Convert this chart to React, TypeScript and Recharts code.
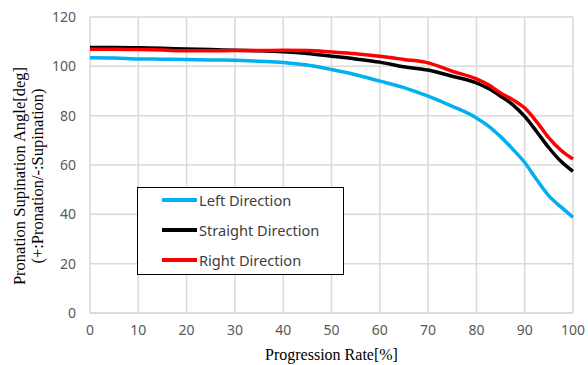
import { LineChart, Line, XAxis, YAxis, CartesianGrid } from 'recharts';

const progression = [0, 5, 10, 15, 20, 25, 30, 35, 40, 45, 50, 55, 60, 65, 70, 75, 80, 82.5, 85, 87.5, 90, 92.5, 95, 97.5, 100];
const leftDirection = [103.5, 103.4, 103.0, 102.9, 102.8, 102.6, 102.5, 102.1, 101.6, 100.5, 98.7, 96.6, 94.0, 91.4, 87.9, 83.8, 79.1, 75.8, 71.5, 66.5, 61.0, 54.0, 47.5, 43.0, 38.8];
const straightDirection = [107.6, 107.6, 107.5, 107.3, 107.0, 106.8, 106.5, 106.3, 105.9, 105.2, 104.1, 103.0, 101.7, 99.8, 98.5, 96.0, 93.3, 91.0, 87.9, 84.5, 79.7, 73.5, 67.0, 61.5, 57.4];
const rightDirection = [106.9, 106.9, 106.8, 106.6, 106.3, 106.3, 106.4, 106.4, 106.5, 106.4, 105.8, 105.1, 104.1, 102.8, 101.4, 98.0, 94.9, 92.5, 89.2, 86.5, 83.1, 77.5, 71.0, 66.0, 62.4];

const xTicks = [0, 10, 20, 30, 40, 50, 60, 70, 80, 90, 100];
const yTicks = [0, 20, 40, 60, 80, 100, 120];

const series = [
    { key: 'left', name: 'Left Direction', color: '#00b0f0' },
    { key: 'straight', name: 'Straight Direction', color: '#000000' },
    { key: 'right', name: 'Right Direction', color: '#ff0000' },
];

const data = progression.map((p, i) => ({
    p,
    left: leftDirection[i],
    straight: straightDirection[i],
    right: rightDirection[i],
}));

const tickStyle = { fontSize: 14, fill: '#595959', fontFamily: '"Noto Sans", sans-serif' };

// two-line rotated title, sits a bit below the plot middle like the original
function YLabel() {
    return (
        <text
            transform="translate(0, 176) rotate(-90)"
            textAnchor="middle"
            style={{ fontSize: 16.5, fontFamily: '"Liberation Serif", serif', fill: '#000' }}
        >
            <tspan x={0} y={25}>Pronation Supination Angle[deg]</tspan>
            <tspan x={0} y={43}>(+:Pronation/-:Supination)</tspan>
        </text>
    );
}

const rowCenters = [14, 44, 73.5];

function LegendBox() {
    return (
        <div style={{ position: 'absolute', left: 137, top: 186.5, width: 207, height: 88.5, boxSizing: 'border-box', border: '1.5px solid #000', background: '#fff' }}>
            {series.map((s, i) => (
                <div key={s.key} style={{ position: 'absolute', left: 0, top: rowCenters[i] - 1.5 - 10, height: 20, display: 'flex', alignItems: 'center' }}>
                    <div style={{ width: 35, height: 4, background: s.color, marginLeft: 23.5, marginRight: 2.5 }} />
                    <span style={{ fontSize: 14.6, color: '#404040', fontFamily: '"Noto Sans", sans-serif', whiteSpace: 'nowrap' }}>{s.name}</span>
                </div>
            ))}
        </div>
    );
}

export default function App() {
    return (
        <div style={{ position: 'absolute', left: 0, top: 0, width: 588, height: 365, background: '#fff' }}>
            <LineChart width={588} height={365} data={data} margin={{ top: 17, right: 15, bottom: 0, left: 0 }}>
                <CartesianGrid stroke="#d9d9d9" strokeWidth={1.5} />
                <XAxis
                    dataKey="p"
                    type="number"
                    domain={[0, 100]}
                    ticks={xTicks}
                    tickLine={false}
                    axisLine={{ stroke: '#d9d9d9', strokeWidth: 1.5 }}
                    tick={tickStyle}
                    tickMargin={6}
                    height={52}
                    label={{ value: 'Progression Rate[%]', position: 'insideBottom', offset: 5, style: { fontSize: 16, fontFamily: '"Liberation Serif", serif', fill: '#000' } }}
                />
                <YAxis
                    type="number"
                    domain={[0, 120]}
                    ticks={yTicks}
                    tickLine={false}
                    axisLine={false}
                    tick={tickStyle}
                    tickMargin={8}
                    width={90}
                    label={<YLabel />}
                />
                {series.map((s) => (
                    <Line
                        key={s.key}
                        dataKey={s.key}
                        name={s.name}
                        type="monotone"
                        stroke={s.color}
                        strokeWidth={3.5}
                        dot={false}
                        isAnimationActive={false}
                    />
                ))}
            </LineChart>
            <LegendBox />
        </div>
    );
}
